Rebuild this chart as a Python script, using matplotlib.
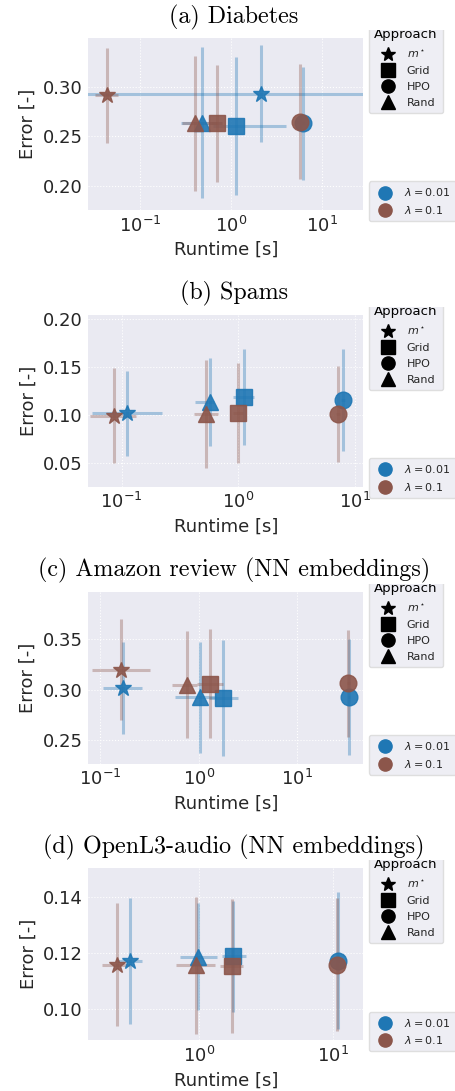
import matplotlib
matplotlib.use('Agg')
import matplotlib.pyplot as plt
from matplotlib.lines import Line2D
from matplotlib.ticker import FormatStrFormatter, LogLocator, NullLocator
from matplotlib.transforms import Bbox, TransformedBbox

# approaches (order used in every list below): m*, Grid, HPO, Rand
approaches = ['$m^\\star$', 'Grid', 'HPO', 'Rand']
markers = ['*', 's', 'o', '^']
msizes = [12, 12, 12, 11]
lambdas = ['$\\lambda = 0.01$', '$\\lambda = 0.1$']
colors = ['#1f77b4', '#8c564b']

titles = ['(a) Diabetes', '(b) Spams',
          '(c) Amazon review (NN embeddings)', '(d) OpenL3-audio (NN embeddings)']

# (a) Diabetes -- [lambda=0.01, lambda=0.1]
diab_rt = [[2.12, 1.14, 6.18, 0.484], [0.0438, 0.707, 5.69, 0.402]]
diab_rt_lo = [[30.0, 0.50, 0.5, 0.20], [0.012, 0.10, 0.5, 0.11]]
diab_rt_hi = [[30.0, 2.85, 0.5, 0.32], [0.014, 0.10, 0.5, 0.30]]
diab_err = [[0.293, 0.2606, 0.263, 0.264], [0.2916, 0.263, 0.2647, 0.263]]
diab_sd = [[0.049, 0.070, 0.057, 0.076], [0.048, 0.059, 0.058, 0.068]]

# (b) Spams
spam_rt = [[0.1117, 1.117, 7.94, 0.569], [0.0859, 1.0, 7.2, 0.532]]
spam_rt_lo = [[0.056, 0.22, 0.3, 0.14], [0.032, 0.10, 0.3, 0.115]]
spam_rt_hi = [[0.110, 0.26, 0.3, 0.05], [0.048, 0.10, 0.3, 0.136]]
spam_err = [[0.1018, 0.1185, 0.116, 0.1133], [0.0993, 0.1018, 0.1007, 0.101]]
spam_sd = [[0.044, 0.050, 0.053, 0.046], [0.0495, 0.052, 0.050, 0.056]]

# (c) Amazon review
amzn_rt = [[0.171, 1.763, 33.3, 1.04], [0.162, 1.313, 32.9, 0.762]]
amzn_rt_lo = [[0.064, 0.50, 1.0, 0.47], [0.079, 0.35, 1.0, 0.225]]
amzn_rt_hi = [[0.096, 0.74, 1.0, 0.45], [0.157, 0.45, 1.0, 0.19]]
amzn_err = [[0.3017, 0.2918, 0.2928, 0.2925], [0.3197, 0.3059, 0.3063, 0.305]]
amzn_sd = [[0.0457, 0.0574, 0.057, 0.055], [0.0497, 0.0535, 0.053, 0.053]]

# (d) OpenL3-audio
openl3_rt = [[0.304, 1.794, 10.8, 0.984], [0.242, 1.745, 10.6, 0.945]]
openl3_rt_lo = [[0.062, 0.32, 0.3, 0.27], [0.053, 0.31, 0.3, 0.27]]
openl3_rt_hi = [[0.072, 0.43, 0.3, 0.37], [0.060, 0.39, 0.3, 0.36]]
openl3_err = [[0.1173, 0.1189, 0.1173, 0.1188], [0.1159, 0.1153, 0.1158, 0.1156]]
openl3_sd = [[0.0225, 0.0198, 0.0245, 0.019], [0.0221, 0.024, 0.0238, 0.0245]]

panels = [
    (diab_rt, diab_rt_lo, diab_rt_hi, diab_err, diab_sd),
    (spam_rt, spam_rt_lo, spam_rt_hi, spam_err, spam_sd),
    (amzn_rt, amzn_rt_lo, amzn_rt_hi, amzn_err, amzn_sd),
    (openl3_rt, openl3_rt_lo, openl3_rt_hi, openl3_err, openl3_sd),
]

xlims = [(10**-1.568, 10**1.454), (10**-1.285, 10**1.071),
         (10**-1.119, 10**1.669), (10**-0.828, 10**1.224)]
ylims = [(0.1755, 0.3495), (0.0255, 0.2042), (0.227, 0.3967), (0.0889, 0.1505)]
yticks = [[0.20, 0.25, 0.30], [0.05, 0.10, 0.15, 0.20],
          [0.25, 0.30, 0.35], [0.10, 0.12, 0.14]]
bottoms = [0.8075, 0.5539, 0.300, 0.0467]

txt = '#262626'
leg_kw = dict(borderaxespad=0, fontsize=8, handlelength=1.96,
              handletextpad=0.75, borderpad=0.45, facecolor='#EAEAF2',
              edgecolor='#d8d8d8', framealpha=0.8, labelcolor=txt)

fig = plt.figure(figsize=(4.55, 10.91), dpi=100)

for i in range(4):
    rt, lo, hi, err, sd = panels[i]
    ax = fig.add_axes([0.194, bottoms[i], 0.6044, 0.1577])
    ax.set_facecolor('#EAEAF2')
    for sp in ax.spines.values():
        sp.set_visible(False)
    ax.set_xscale('log')
    ax.set_axisbelow(True)
    ax.grid(True, color='white', ls=':', lw=0.8)

    for j in range(2):
        for k in range(4):
            ax.errorbar(rt[j][k], err[j][k], yerr=sd[j][k],
                        xerr=[[lo[j][k]], [hi[j][k]]], fmt='none',
                        ecolor=colors[j], alpha=0.35, elinewidth=2.2,
                        capsize=0, zorder=2)
    for j in range(2):
        for k in range(4):
            ax.plot(rt[j][k], err[j][k], marker=markers[k], ms=msizes[k],
                    color=colors[j], alpha=0.9, ls='none', zorder=3)

    ax.set_xlim(*xlims[i])
    ax.set_ylim(*ylims[i])
    ax.set_yticks(yticks[i])
    ax.yaxis.set_major_formatter(FormatStrFormatter('%.2f'))
    ax.xaxis.set_major_locator(LogLocator(base=10))
    ax.xaxis.set_minor_locator(NullLocator())
    ax.tick_params(length=0, labelsize=13, labelcolor=txt, pad=4)
    ax.set_xlabel('Runtime [s]', fontsize=13, color=txt)
    ax.set_ylabel('Error [-]', fontsize=13, color=txt)

    ax.text(0.53, 1 + 21 / 172, titles[i], transform=ax.transAxes,
            ha='center', va='center', fontsize=17.3, family='cmr10')

    app_handles = [Line2D([], [], marker=m, color='black', ls='none',
                          ms=10 if m == '*' else 9.5) for m in markers]
    leg1 = ax.legend(app_handles, approaches, title='Approach', loc='upper left',
                     bbox_to_anchor=(1.0218, 1.085), title_fontsize=9.5,
                     labelspacing=0.55, **leg_kw)
    # the approach box is cut just above the axes, as in the original figure
    cut = TransformedBbox(Bbox([[1.0, -0.5], [1.5, 1 + 8 / 172]]), ax.transAxes)
    for a in leg1.findobj():
        a.set_clip_box(cut)
        a.set_clip_on(True)
    ax.add_artist(leg1)

    lam_handles = [Line2D([], [], marker='o', color=c, ls='none', ms=9.5)
                   for c in colors]
    ax.legend(lam_handles, lambdas, loc='lower left',
              bbox_to_anchor=(1.0218, -0.064), labelspacing=0.5, **leg_kw)

fig.savefig('out.png', dpi=100)
